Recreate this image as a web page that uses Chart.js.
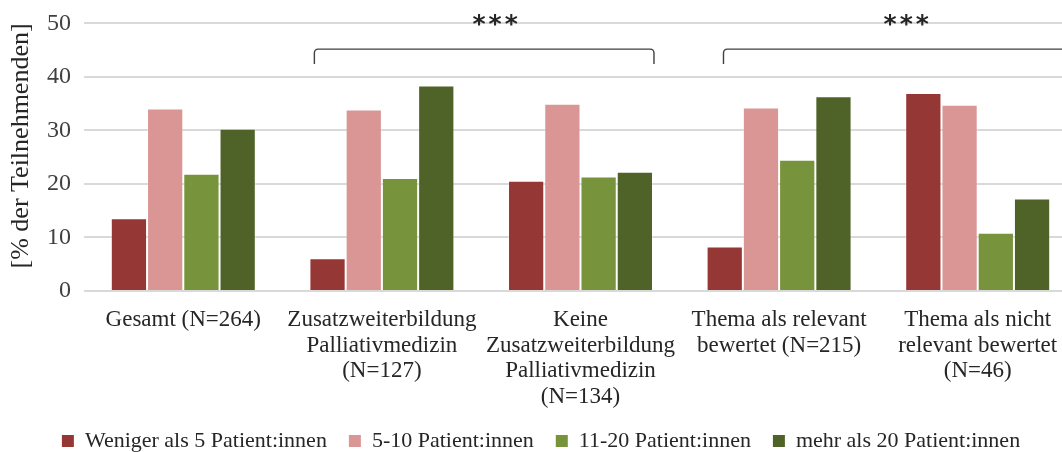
<!DOCTYPE html>
<html>
<head>
<meta charset="utf-8">
<script src="https://cdn.jsdelivr.net/npm/chart.js@4.4.0/dist/chart.umd.min.js"></script>
<style>
  html, body { margin: 0; padding: 0; background: #ffffff; overflow: hidden; }
  #wrap { position: relative; width: 1080px; height: 452px; }
</style>
</head>
<body>
<div id="wrap"><canvas id="c"></canvas></div>
<script>
const categories = [
  ["Gesamt (N=264)"],
  ["Zusatzweiterbildung", "Palliativmedizin", "(N=127)"],
  ["Keine", "Zusatzweiterbildung", "Palliativmedizin", "(N=134)"],
  ["Thema als relevant", "bewertet (N=215)"],
  ["Thema als nicht", "relevant bewertet", "(N=46)"]
];
const seriesNames = [
  "Weniger als 5 Patient:innen",
  "5-10 Patient:innen",
  "11-20 Patient:innen",
  "mehr als 20 Patient:innen"
];
const weniger5 = [13.6, 6.1, 20.6, 8.3, 37.0];
const p5bis10 = [34.1, 33.9, 35.0, 34.3, 34.8];
const p11bis20 = [21.9, 21.1, 21.4, 24.5, 10.9];
const mehr20 = [30.3, 38.4, 22.3, 36.4, 17.3];
const seriesColors = ["#953735", "#d99694", "#77933c", "#4f6228"];
const yTicks = [0, 10, 20, 30, 40, 50];
const yTitle = "[% der Teilnehmenden]";
// significance brackets (category-index units / value units)
const bracketStarts = [0.66, 2.72];
const bracketEnds = [2.37, 4.54];
const bracketLevel = 45.2;
const bracketDrop = 42.4;
const sigLabels = ["***", "***"];
const sigCenters = [1.57, 3.64];
const sigLevel = 50.4;

const fontFam = "'Liberation Serif', 'Times New Roman', serif";

const bracketPlugin = {
  id: 'brackets',
  afterDatasetsDraw(chart) {
    const ctx = chart.ctx;
    const x = chart.scales.x, y = chart.scales.y;
    ctx.save();
    ctx.strokeStyle = '#404040';
    ctx.lineWidth = 1.4;
    const r = 4;
    for (let i = 0; i < bracketStarts.length; i++) {
      const x1 = x.getPixelForValue(bracketStarts[i]);
      const x2 = x.getPixelForValue(bracketEnds[i]);
      const yl = y.getPixelForValue(bracketLevel);
      const yd = y.getPixelForValue(bracketDrop);
      ctx.beginPath();
      ctx.moveTo(x1, yd);
      ctx.lineTo(x1, yl + r);
      ctx.quadraticCurveTo(x1, yl, x1 + r, yl);
      ctx.lineTo(x2 - r, yl);
      ctx.quadraticCurveTo(x2, yl, x2, yl + r);
      ctx.lineTo(x2, yd);
      ctx.stroke();
    }
    ctx.fillStyle = '#262626';
    ctx.font = "bold 25px 'DejaVu Sans', sans-serif";
    if ('letterSpacing' in ctx) ctx.letterSpacing = '3px';
    ctx.textAlign = 'center';
    ctx.textBaseline = 'middle';
    for (let i = 0; i < sigLabels.length; i++) {
      const cx = x.getPixelForValue(sigCenters[i]);
      const cy = y.getPixelForValue(sigLevel);
      ctx.fillText(sigLabels[i], cx + 1.5, cy + 4);
    }
    ctx.restore();
  }
};

const seriesData = [weniger5, p5bis10, p11bis20, mehr20];

new Chart(document.getElementById('c'), {
  type: 'bar',
  data: {
    labels: categories,
    datasets: seriesNames.map((n, i) => ({
      label: n,
      data: seriesData[i],
      backgroundColor: seriesColors[i],
      borderColor: 'rgba(255,255,255,0.3)',
      borderWidth: 1,
      barPercentage: 1.0,
      categoryPercentage: 0.73
    }))
  },
  options: {
    responsive: true,
    maintainAspectRatio: false,
    animation: false,
    layout: { padding: { top: 0, right: 3, left: 5, bottom: -10 } },
    plugins: {
      tooltip: { enabled: false },
      legend: {
        position: 'bottom',
        labels: {
          boxWidth: 12,
          boxHeight: 12,
          padding: 22,
          color: '#262626',
          font: { family: fontFam, size: 22 },
          generateLabels: (chart) => Chart.defaults.plugins.legend.labels.generateLabels(chart).map(l => Object.assign(l, { lineWidth: 0, strokeStyle: 'rgba(0,0,0,0)' }))
        }
      }
    },
    scales: {
      x: {
        grid: { display: false, drawTicks: false },
        border: { display: false },
        afterFit: (s) => {
          s.height -= 18;
          s._computeLabelArea = function () { return undefined; };
        },
        ticks: {
          color: '#262626',
          maxRotation: 0,
          autoSkip: false,
          padding: 16,
          font: { family: fontFam, size: 23, lineHeight: 1.12 }
        }
      },
      y: {
        min: 0,
        max: 50,
        afterBuildTicks: (s) => { s.ticks = yTicks.map(v => ({ value: v })); },
        afterFit: (s) => { s.paddingTop -= 4; },
        grid: { color: '#d9d9d9', lineWidth: 2, drawTicks: false },
        border: { display: false },
        ticks: {
          color: '#404040',
          padding: 13,
          font: { family: fontFam, size: 24 }
        },
        title: {
          display: true,
          text: yTitle,
          align: 'end',
          color: '#262626',
          padding: { top: 3, bottom: 0 },
          font: { family: fontFam, size: 26, lineHeight: 1.0 }
        }
      }
    }
  },
  plugins: [bracketPlugin]
});
</script>
</body>
</html>
